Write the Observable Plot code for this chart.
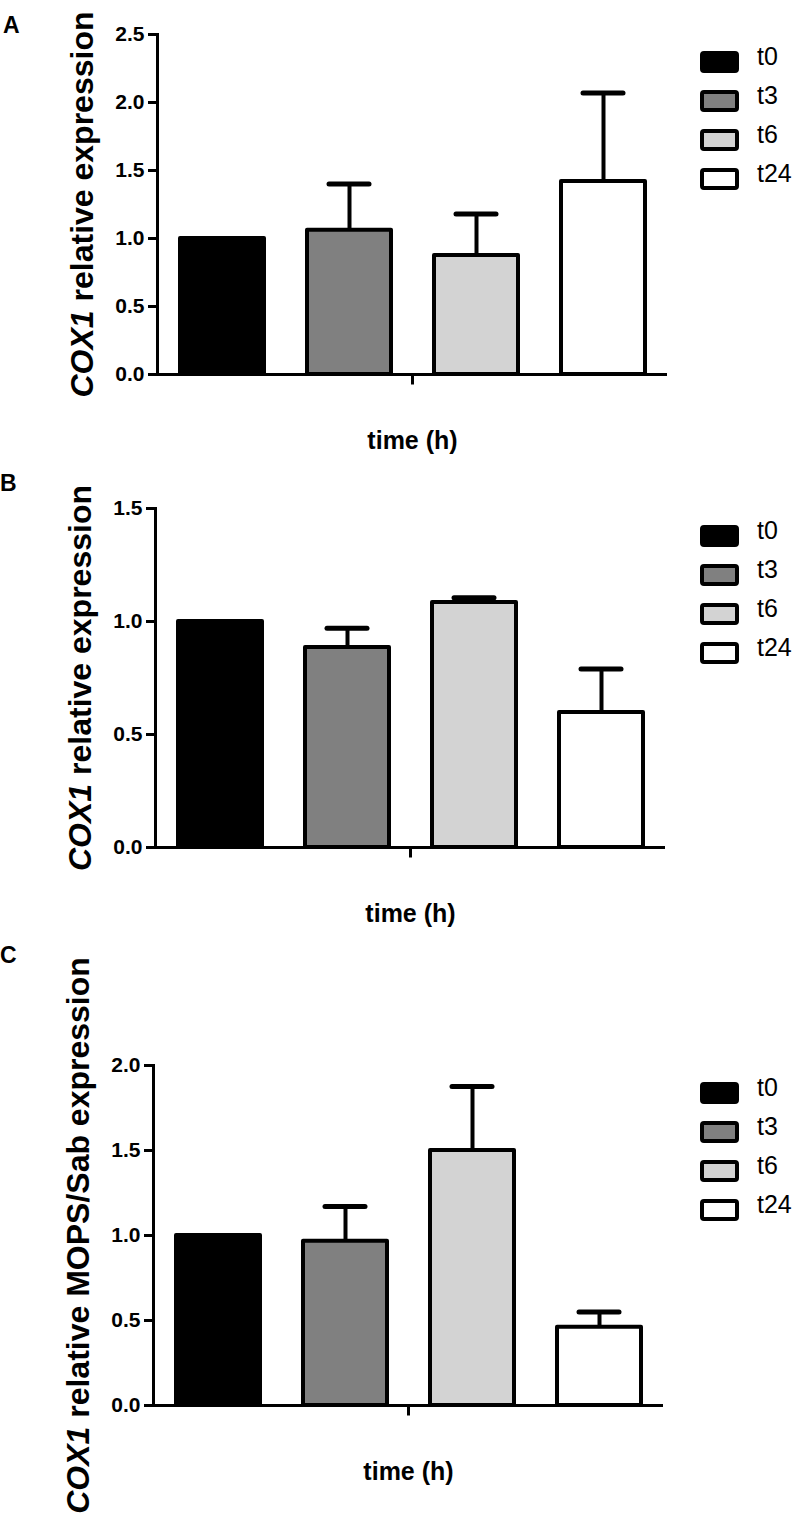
<!DOCTYPE html>
<html>
<head>
<meta charset="utf-8">
<script src="https://cdn.jsdelivr.net/npm/d3@7"></script>
<script src="https://cdn.jsdelivr.net/npm/@observablehq/plot@0.6"></script>
<style>
  html, body { margin: 0; padding: 0; background: #fff; }
  #root { position: relative; width: 800px; height: 1521px; background: #fff; font-family: "Liberation Sans", Arial, sans-serif; overflow: hidden; }
  .panel { position: absolute; left: 0; width: 800px; }
  .letter { position: absolute; font-weight: bold; font-size: 23px; line-height: 1; }
  .legend { position: absolute; left: 700px; }
  .row { position: absolute; left: 0; height: 30px; width: 100px; }
  .sw { position: absolute; left: 0; top: 4px; width: 31px; height: 14px; border: 4px solid #000; border-radius: 4px; }
  .lab { position: absolute; left: 57px; top: -3px; font-size: 25px; line-height: 1; color: #000; }
</style>
</head>
<body>
<div id="root"></div>
<script>
const times = ["t0", "t3", "t6", "t24"];
const fills = ["#000000", "#808080", "#d3d3d3", "#ffffff"];

const meanA = [1.0, 1.06, 0.875, 1.42];
const upperA = [1.0, 1.40, 1.18, 2.07];
const meanB = [1.0, 0.885, 1.084, 0.597];
const upperB = [1.0, 0.97, 1.105, 0.79];
const meanC = [1.0, 0.966, 1.5, 0.46];
const upperC = [1.0, 1.17, 1.876, 0.55];

const ticksA = [0, 0.5, 1.0, 1.5, 2.0, 2.5];
const ticksB = [0, 0.5, 1.0, 1.5];
const ticksC = [0, 0.5, 1.0, 1.5, 2.0];

const letters = ["A", "B", "C"];
const yLabelAB = "COX1 relative expression";
const yLabelC = "COX1 relative MOPS/Sab expression";
const xLabel = "time (h)";
const italicPart = "COX1";

const panels = [
  {letter: letters[0], mean: meanA, upper: upperA, ticks: ticksA, ymax: 2.5, ylabel: yLabelAB,
   top: 0, h: 460, mt: 34, mb: 86, ml: 157, mr: 133, letterPos: [3, 14]},
  {letter: letters[1], mean: meanB, upper: upperB, ticks: ticksB, ymax: 1.5, ylabel: yLabelAB,
   top: 460, h: 480, mt: 48, mb: 93, ml: 155, mr: 135, letterPos: [0, 12]},
  {letter: letters[2], mean: meanC, upper: upperC, ticks: ticksC, ymax: 2.0, ylabel: yLabelC,
   top: 940, h: 581, mt: 125, mb: 116, ml: 153, mr: 137, letterPos: [0, 4]}
];

const tickSymbol = { draw(context, size) { context.moveTo(0, 0); context.lineTo(0, 10); } };

function stretchX(textEl, k) {
  const x = textEl.getAttribute("x");
  const y = textEl.getAttribute("y");
  let tr = textEl.getAttribute("transform") || "";
  if (x !== null || y !== null) {
    tr = `translate(${x || 0},${y || 0}) ` + tr;
    textEl.removeAttribute("x");
    textEl.removeAttribute("y");
  }
  textEl.setAttribute("transform", tr + ` scale(${k},1)`);
}

const root = document.getElementById("root");

for (const p of panels) {
  const data = times.map((t, i) => ({time: t, mean: p.mean[i], upper: p.upper[i]}));
  const div = document.createElement("div");
  div.className = "panel";
  div.style.top = p.top + "px";
  div.style.height = p.h + "px";

  const chart = Plot.plot({
    width: 800,
    height: p.h,
    marginTop: p.mt,
    marginBottom: p.mb,
    marginLeft: p.ml,
    marginRight: p.mr,
    style: {fontFamily: "'Liberation Sans', Arial, sans-serif", background: "transparent", overflow: "visible", color: "#000"},
    x: {domain: times, paddingInner: 0.34, paddingOuter: 0.17, axis: null},
    y: {domain: [0, p.ymax], axis: null},
    color: {domain: times, range: fills},
    marks: [
      Plot.axisY({ticks: p.ticks, tickFormat: d3.format(".1f"), tickSize: 9, tickPadding: 4, strokeWidth: 3,
                  fontSize: 21, fontWeight: "bold", label: null, ariaLabel: "ytick"}),
      Plot.frame({anchor: "left", strokeWidth: 3}),
      Plot.ruleY([0], {strokeWidth: 3, insetLeft: -9}),
      Plot.ruleX(data, {x: "time", y1: "mean", y2: "upper", strokeWidth: 4}),
      Plot.tickY(data, {x: "time", y: "upper", strokeWidth: 5, insetLeft: 22, insetRight: 22, strokeLinecap: "round"}),
      Plot.barY(data, {x: "time", y: "mean", fill: "time", stroke: "#000", strokeWidth: 4, strokeLinejoin: "round"}),
      Plot.dot([0], {frameAnchor: "bottom", symbol: tickSymbol, stroke: "#000", strokeWidth: 3, fill: "none"}),
      Plot.text([xLabel], {frameAnchor: "bottom", textAnchor: "middle", lineAnchor: "middle", dy: 66,
                           fontSize: 25, fontWeight: "bold", fill: "#000", ariaLabel: "xlabel"}),
      Plot.text([p.ylabel], {frameAnchor: "left", textAnchor: "middle", lineAnchor: "middle", dx: -75, rotate: -90,
                             fontSize: 32, fontWeight: "bold", fill: "#000"})
    ]
  });
  // italicise gene name
  chart.querySelectorAll("text").forEach(t => {
    if (t.textContent === p.ylabel) {
      const rest = p.ylabel.slice(italicPart.length);
      t.textContent = "";
      const ts1 = document.createElementNS("http://www.w3.org/2000/svg", "tspan");
      ts1.setAttribute("font-style", "italic");
      ts1.textContent = italicPart;
      const ts2 = document.createElementNS("http://www.w3.org/2000/svg", "tspan");
      ts2.textContent = rest;
      t.appendChild(ts1); t.appendChild(ts2);
    }
  });
  chart.querySelectorAll('g[aria-label="ytick"] text').forEach(t => stretchX(t, 1.12));
  chart.querySelectorAll('g[aria-label="xlabel"] text').forEach(t => stretchX(t, 1.12));
  div.appendChild(chart);

  const letter = document.createElement("div");
  letter.className = "letter";
  letter.style.left = p.letterPos[0] + "px";
  letter.style.top = p.letterPos[1] + "px";
  letter.textContent = p.letter;
  div.appendChild(letter);

  const legend = document.createElement("div");
  legend.className = "legend";
  legend.style.top = (p.mt + 24 - 11) + "px";
  times.forEach((t, i) => {
    const row = document.createElement("div");
    row.className = "row";
    row.style.top = (i * 39) + "px";
    const sw = document.createElement("div");
    sw.className = "sw";
    sw.style.background = fills[i];
    const lab = document.createElement("div");
    lab.className = "lab";
    lab.textContent = t;
    row.appendChild(sw); row.appendChild(lab);
    legend.appendChild(row);
  });
  div.appendChild(legend);
  root.appendChild(div);
}
</script>
</body>
</html>
